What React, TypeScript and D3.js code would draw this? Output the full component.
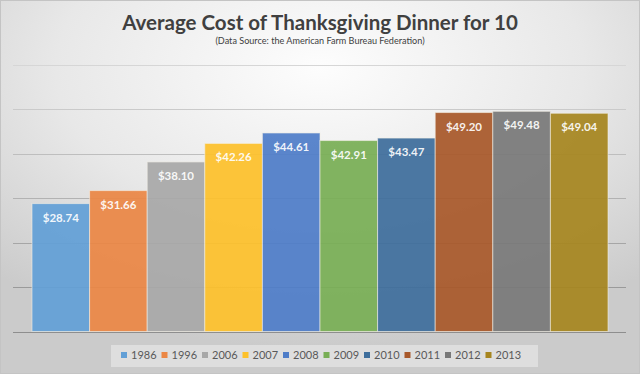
import React from "react";
import * as d3 from "d3";

const years = ["1986", "1996", "2006", "2007", "2008", "2009", "2010", "2011", "2012", "2013"];
const costs = [28.74, 31.66, 38.1, 42.26, 44.61, 42.91, 43.47, 49.2, 49.48, 49.04];
const colors = ["#629FD6", "#EB8745", "#A8A8A8", "#FDC12B", "#4F7DC8", "#78AE55", "#3E6E9C", "#A8582A", "#787878", "#A6851F"];
const yTicks = [0, 10, 20, 30, 40, 50, 60];

const W = 640;
const H = 374;
const FONT = "Lato, 'Open Sans', sans-serif";

export default function App() {
  const x = d3.scaleBand<string>().domain(years).range([32, 608]).paddingInner(0);
  const y = d3.scaleLinear().domain([0, 60]).range([331.5, 64.5]);
  const gridColor = d3.interpolateRgb("#d6d6d6", "#8e8e8e");

  const legendStart = 124;
  const legendStep = 40.5;

  return (
    <svg width={W} height={H} style={{ position: "absolute", left: 0, top: 0 }}>
      <defs>
        <radialGradient id="bg" cx="50%" cy="18%" r="75%" fx="50%" fy="18%">
          <stop offset="0%" stopColor="#fdfdfd" />
          <stop offset="55%" stopColor="#e8e8e8" />
          <stop offset="100%" stopColor="#cbcbcb" />
        </radialGradient>
      </defs>
      <rect x={0} y={0} width={W} height={H} fill="url(#bg)" />
      <rect x={0.5} y={0.5} width={W - 1} height={H - 1} fill="none" stroke="#c4c4c4" />

      <text x={320} y={29.5} textAnchor="middle" fontFamily={FONT} fontWeight={700} fontSize={20.5} fill="#404040">
        Average Cost of Thanksgiving Dinner for 10
      </text>
      <text x={320} y={43.5} textAnchor="middle" fontFamily={FONT} fontSize={9.1} fill="#404040">
        (Data Source: the American Farm Bureau Federation)
      </text>

      {yTicks.map((t) => (
        <line
          key={t}
          x1={13}
          x2={626}
          y1={Math.round(y(t)) + 0.5}
          y2={Math.round(y(t)) + 0.5}
          stroke={gridColor(1 - t / 60)}
          strokeWidth={1}
        />
      ))}

      {years.map((yr, i) => (
        <g key={yr}>
          <rect
            x={x(yr)!}
            y={y(costs[i])}
            width={x.bandwidth()}
            height={y(0) - y(costs[i])}
            fill={colors[i]}
            fillOpacity={0.93}
            stroke="#f4f0e6"
            strokeOpacity={0.6}
            strokeWidth={1}
          />
          <text
            x={x(yr)! + x.bandwidth() / 2}
            y={y(costs[i]) + 18}
            textAnchor="middle"
            fontFamily={FONT}
            fontWeight={700}
            fontSize={11.5}
            fill="#ffffff"
            fillOpacity={0.92}
          >
            {"$" + costs[i].toFixed(2)}
          </text>
        </g>
      ))}

      <rect x={111} y={345} width={427} height={22} fill="#e6e6e6" fillOpacity={0.7} />
      {years.map((yr, i) => (
        <g key={"lg" + yr} transform={`translate(${legendStart + i * legendStep},355)`}>
          <rect x={-3} y={-3} width={6} height={6} fill={colors[i]} />
          <text x={7} y={4} fontFamily={FONT} fontSize={11} fill="#595959">
            {yr}
          </text>
        </g>
      ))}
    </svg>
  );
}
